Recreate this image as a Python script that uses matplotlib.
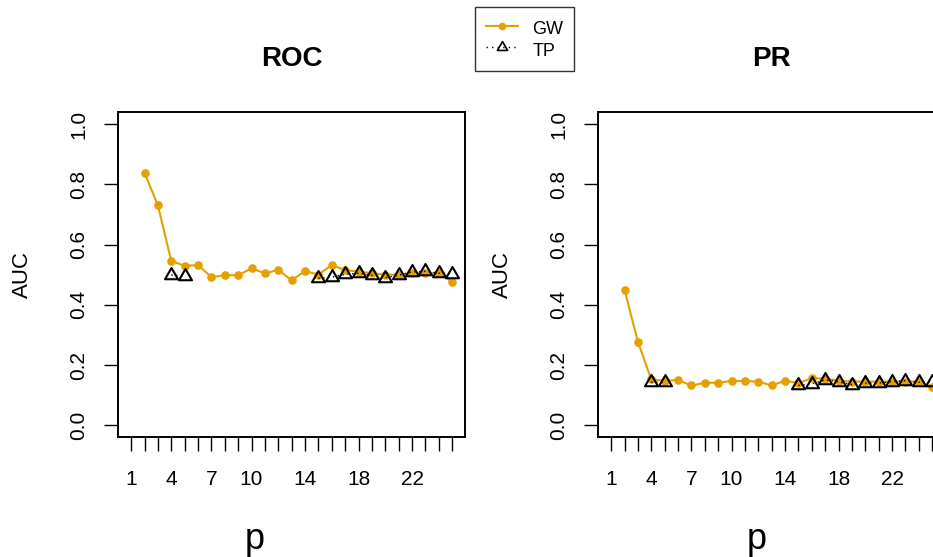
import numpy as np
import matplotlib
matplotlib.use("Agg")
import matplotlib.pyplot as plt
from matplotlib.path import Path
from matplotlib.lines import Line2D

plt.rcParams['font.family'] = ['Liberation Sans', 'DejaVu Sans']

nan = np.nan
p = list(range(1, 26))
xtick_labels = {1: "1", 4: "4", 7: "7", 10: "10", 14: "14", 18: "18", 22: "22"}
ytick_vals = [0.0, 0.2, 0.4, 0.6, 0.8, 1.0]

roc_gw = [nan, 0.838, 0.730, 0.546, 0.529, 0.532, 0.492, 0.498, 0.498, 0.521,
          0.504, 0.516, 0.481, 0.512, 0.500, 0.532, 0.515, 0.510, 0.505, 0.500,
          0.500, 0.505, 0.505, 0.505, 0.477]
roc_tp = [nan, nan, nan, 0.499, 0.494, nan, nan, nan, nan, nan, nan, nan, nan, nan,
          0.488, 0.492, 0.501, 0.505, 0.498, 0.490, 0.498, 0.509, 0.511, 0.505, 0.503]

pr_gw = [nan, 0.450, 0.277, 0.152, 0.148, 0.150, 0.132, 0.141, 0.141, 0.147,
         0.147, 0.145, 0.132, 0.148, 0.140, 0.156, 0.155, 0.148, 0.145, 0.145,
         0.145, 0.145, 0.145, 0.145, 0.127]
pr_tp = [nan, nan, nan, 0.143, 0.143, nan, nan, nan, nan, nan, nan, nan, nan, nan,
         0.132, 0.137, 0.151, 0.144, 0.135, 0.140, 0.140, 0.145, 0.148, 0.143, 0.143]

panels = [("ROC", roc_gw, roc_tp), ("PR", pr_gw, pr_tp)]

ORANGE = "#E69F00"
W, H = 933, 557
fig = plt.figure(figsize=(W / 100, H / 100), dpi=100)

# R-style triangle (pch = 2), centred on its centroid
tri = Path([(0, 1.5551), (1.3468, -0.7776), (-1.3468, -0.7776), (0, 1.5551)],
           [Path.MOVETO, Path.LINETO, Path.LINETO, Path.CLOSEPOLY])

ax_left_px = [118.3, 598.3]
ax_w_px = 346.7
ax_top_px, ax_bot_px = 112.0, 437.3
xlab_px = [255, 757]

for i, (title, gw, tp) in enumerate(panels):
    ax = fig.add_axes([ax_left_px[i] / W, (H - ax_bot_px) / H,
                       ax_w_px / W, (ax_bot_px - ax_top_px) / H])
    ax.plot(p, gw, color=ORANGE, lw=1.5, marker='o', ms=6.2,
            markeredgewidth=0, zorder=2, clip_on=False)
    ax.plot(p, tp, color='black', lw=1.0, ls=(0, (1, 2.5)), marker=tri, ms=10.8,
            markerfacecolor='none', markeredgecolor='black',
            markeredgewidth=1.5, zorder=3, clip_on=False)
    ax.set_xlim(0.04, 25.96)
    ax.set_ylim(-0.04, 1.04)
    ax.set_xticks(p)
    ax.set_xticklabels([xtick_labels.get(v, "") for v in p])
    ax.set_yticks(ytick_vals)
    ax.set_yticklabels([f"{v:.1f}" for v in ytick_vals], rotation=90, va='center')
    ax.tick_params(axis='both', direction='out', length=10, width=1.0,
                   labelsize=15, color='black')
    ax.tick_params(axis='x', pad=13.5)
    ax.tick_params(axis='y', pad=11.5)
    for s in ax.spines.values():
        s.set_linewidth(1.4)
        s.set_color('black')
    cx = (ax_left_px[i] + ax_w_px / 2) / W
    fig.text(cx, 1 - 66 / H, title, ha='center', va='baseline',
             fontsize=20, weight='bold')
    fig.text(xlab_px[i] / W, 1 - 549 / H, "p", ha='center', va='baseline',
             fontsize=26)
    fig.text((ax_left_px[i] - 96) / W, 1 - 274.5 / H, "AUC", ha='center',
             va='center', rotation=90, fontsize=16)

handles = [
    Line2D([], [], color=ORANGE, lw=1.5, marker='o', ms=5.5, markeredgewidth=0),
    Line2D([], [], color='black', lw=1.0, ls=(0, (1, 3)), marker=tri, ms=8.5,
           markerfacecolor='none', markeredgewidth=1.2),
]
leg = fig.legend(handles, ["GW", "TP"], loc='upper left',
                 bbox_to_anchor=(475 / W, 1 - 7 / H), borderaxespad=0,
                 fontsize=13, frameon=True, fancybox=False, edgecolor='black',
                 handlelength=1.75, handletextpad=0.8, borderpad=0.62,
                 handleheight=1.35, labelspacing=0.05)
leg.get_frame().set_linewidth(1.0)

fig.savefig("out.png", dpi=100)
